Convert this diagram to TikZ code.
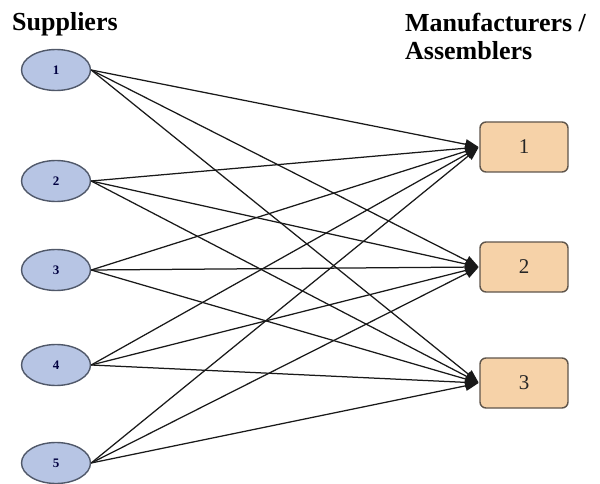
\documentclass[tikz,border=0pt]{standalone}
\usepackage{fontspec}
\setmainfont{Liberation Serif}
\usetikzlibrary{arrows.meta,shapes.geometric}
\definecolor{supfill}{RGB}{183,197,228}
\definecolor{supdraw}{RGB}{80,88,105}
\definecolor{manfill}{RGB}{246,210,168}
\definecolor{mandraw}{RGB}{95,85,75}
\begin{document}
\begin{tikzpicture}[x=1pt,y=-1pt,
  sup/.style={ellipse,draw=supdraw,line width=1.4pt,fill=supfill,minimum width=69pt,minimum height=41pt,inner sep=0pt,font=\fontsize{13}{13}\selectfont\bfseries,text=black!75!blue},
  man/.style={rectangle,rounded corners=6pt,draw=mandraw,line width=1.4pt,fill=manfill,minimum width=88pt,minimum height=50pt,inner sep=0pt,font=\fontsize{21}{21}\selectfont,text=black!85},
  link/.style={line width=1.25pt,draw=black!90,-{Triangle[length=13pt,width=10pt]},shorten >=1pt},
  head/.style={font=\fontsize{26}{28}\selectfont\bfseries,align=left,anchor=north west,inner sep=0pt}]
\useasboundingbox (0,0) rectangle (600,484);
\node[head] (hs) at (12,12) {Suppliers};
\node[head] (hm) at (405,13) {Manufacturers /\\Assemblers};
\node[sup] (s1) at (56,70) {1};
\node[sup] (s2) at (56,181) {2};
\node[sup] (s3) at (56,270) {3};
\node[sup] (s4) at (56,365) {4};
\node[sup] (s5) at (56,463) {5};
\node[man] (m1) at (524,147) {1};
\node[man] (m2) at (524,267) {2};
\node[man] (m3) at (524,383) {3};
\foreach \s in {1,...,5}{
  \foreach \m in {1,2,3}{
    \draw[link] (s\s.east) -- (m\m.west);
  }
}
\end{tikzpicture}
\end{document}
